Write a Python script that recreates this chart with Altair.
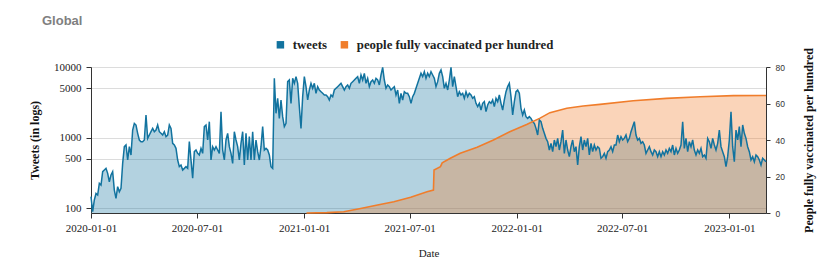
import altair as alt
import pandas as pd

# Daily-ish tweet counts (log scale), evenly spaced from 2020-01-01 to 2023-03-05
tweets = [
    145, 89, 130, 161, 153, 224, 212, 328, 346, 365,
    310, 236, 294, 328, 180, 137, 201, 170, 190, 430,
    741, 783, 480, 741, 565, 1278, 1588, 1504, 1146, 922,
    873, 873, 922, 2085, 973, 1085, 1210, 1349, 1210, 1278,
    1504, 1210, 1146, 1085, 1210, 1028, 1085, 1504, 1349, 827,
    783, 702, 480, 386, 407, 346, 365, 386, 365, 873,
    480, 264, 630, 665, 596, 565, 702, 596, 1425, 1504,
    922, 1677, 480, 741, 665, 741, 665, 596, 2325, 665,
    480, 922, 1146, 741, 596, 430, 1210, 922, 741, 480,
    827, 1210, 407, 1146, 480, 1028, 480, 1210, 480, 922,
    630, 480, 741, 1425, 665, 702, 665, 565, 386, 365,
    6909, 2202, 3594, 1870, 3404, 1975, 1425, 1588, 6194, 6540,
    3052, 6909, 5866, 7295, 5866, 2738, 1349, 3795, 7295, 5262,
    3404, 4719, 5866, 4983, 5866, 4231, 5262, 4719, 4469, 4231,
    4007, 4007, 3795, 3404, 4007, 3795, 4719,
    4983, 5262, 5556, 5866, 5262, 4719, 5262, 5556, 4983, 5866,
    6194, 6540, 6909, 7295, 5866, 7700, 6540, 8134, 5866, 6909,
    5262, 6194, 6540, 5866, 6909, 6540, 5556, 7700, 9900, 6540,
    4983, 5556, 5262, 4719, 4983, 5262, 4007, 4719, 3052, 4231,
    3404, 4469, 4231, 4231, 3795, 3052, 3795, 4231, 4983, 5866,
    6909, 8134, 7295, 8586, 6909, 8134, 7295, 8586, 7700, 6909,
    5262, 6194, 8134, 9070, 7295, 4983, 5866, 4719, 6540, 9900,
    5262, 7295, 5262, 3795, 4469, 4007, 4231, 3594, 4469, 3795,
    4231, 4007, 3594, 3795, 3052, 2738, 3052, 2455, 3052, 3224,
    2325, 2891, 3224, 3052, 3404, 2738, 3594, 3224, 4007, 3052,
    2455, 3404, 4469, 5262, 5866, 3795, 2085, 3224, 4469, 4719,
    4231, 2593, 2085, 2455, 1975, 1870, 1975, 1870, 1677, 1588,
    1349, 1085, 1771, 1677,
    1349, 1146, 973, 873, 665, 827, 630, 922, 741, 973,
    665, 873, 1278, 596, 922, 665, 535, 741, 922, 630,
    741, 407, 741, 1028, 665, 922, 741, 973, 565, 827,
    630, 783, 665, 741, 702, 507, 535, 596, 507, 630,
    665, 741, 630, 783, 783, 1085, 873, 1028, 922, 973,
    1085, 873, 973, 1210, 1425, 1677, 1085, 922, 973, 827,
    873, 783, 596, 665, 741, 630, 565, 665, 630, 535,
    630, 535, 630, 565, 665, 596, 702, 630, 783, 565,
    702, 596, 665, 783, 1677, 702, 973, 630, 873, 741,
    922, 665, 565, 665, 596, 702, 535, 565, 507, 973,
    873, 702, 973, 783, 665, 827, 1278, 741, 630, 535,
    386, 535, 922, 2325, 741, 454, 1278, 922, 1425, 741,
    1504, 1146, 973, 741, 630, 480, 535, 454, 565, 535,
    480, 407, 507, 480, 454,
]

# People fully vaccinated per hundred (global)
vacc_dates = [
    "2021-01-05", "2021-02-09", "2021-03-10", "2021-04-08", "2021-05-07",
    "2021-06-04", "2021-07-03", "2021-07-31", "2021-08-11", "2021-08-12",
    "2021-08-23", "2021-08-26", "2021-09-09", "2021-09-26", "2021-10-25",
    "2021-11-22", "2021-12-20", "2022-01-18", "2022-02-10", "2022-02-27",
    "2022-03-28", "2022-04-25", "2022-05-24", "2022-07-20", "2022-09-15",
    "2022-11-12", "2023-01-08", "2023-03-05",
]
vacc_values = [
    0.0, 0.2, 0.7, 2.5, 4.4,
    6.2, 8.6, 11.7, 12.6, 23.6,
    25.4, 27.5, 30.0, 32.7, 36.0,
    40.0, 44.5, 48.5, 52.0, 55.0,
    57.4, 58.6, 59.5, 61.5, 62.8,
    63.7, 64.3, 64.4,
]

series_names = ["tweets", "people fully vaccinated per hundred"]
series_colors = ["#12739f", "#f07d2b"]
x_ticks = ["2020-01-01", "2020-07-01", "2021-01-01", "2021-07-01",
           "2022-01-01", "2022-07-01", "2023-01-01"]
left_ticks = [100, 500, 1000, 5000, 10000]
right_ticks = [0, 20, 40, 60, 80]

tw_df = pd.DataFrame({
    "date": pd.date_range("2020-01-01", "2023-03-05", periods=len(tweets)),
    "value": tweets,
    "series": series_names[0],
})
vx_df = pd.DataFrame({
    "date": pd.to_datetime(vacc_dates),
    "value": vacc_values,
    "series": series_names[1],
})

SERIF = "Liberation Serif"

def dt(s):
    y, m, d = (int(p) for p in s.split("-"))
    return alt.DateTime(year=y, month=m, date=d)

x_enc = alt.X(
    "date:T",
    title="Date",
    scale=alt.Scale(domain=[dt("2020-01-01"), dt("2023-03-05")], nice=False),
    axis=alt.Axis(values=[dt(s) for s in x_ticks], format="%Y-%m-%d",
                  labelFont=SERIF, labelFontSize=11, labelColor="#222",
                  titleFont=SERIF, titleFontSize=11, titleFontWeight="normal",
                  titleColor="#222", grid=False, tickSize=5, labelPadding=4,
                  titlePadding=14, domainColor="#333", tickColor="#333",
                  labelFlush=False),
)

color_enc = alt.Color(
    "series:N",
    scale=alt.Scale(domain=series_names, range=series_colors),
    legend=alt.Legend(
        title=None, orient="none", legendX=183, legendY=-29,
        direction="horizontal", symbolType="square", symbolSize=56,
        symbolOpacity=1, symbolStrokeWidth=0, labelLimit=400,
        labelFont=SERIF, labelFontSize=12.8, labelFontWeight="bold",
        labelColor="#222", labelOffset=6, columnPadding=11, padding=0,
    ),
)

left_scale = alt.Scale(type="log", domain=[85, 10000], nice=False)
right_scale = alt.Scale(domain=[0, 80], nice=False)

y_left = alt.Y(
    "value:Q",
    title="Tweets (in logs)",
    scale=left_scale,
    axis=alt.Axis(values=left_ticks, format="d", orient="left",
                  labelFont=SERIF, labelFontSize=11, labelColor="#222",
                  titleFont=SERIF, titleFontSize=12, titleFontWeight="bold",
                  titleColor="#111", titlePadding=12, tickSize=5,
                  labelPadding=5, grid=True, gridColor="#dcdcdc",
                  domainColor="#333", tickColor="#333"),
)

y_right = alt.Y(
    "value:Q",
    title="People fully vaccinated per hundred",
    scale=right_scale,
    axis=alt.Axis(values=right_ticks, orient="right",
                  labelFont="Liberation Sans", labelFontSize=8.5,
                  labelColor="#333", titleFont=SERIF, titleFontSize=12,
                  titleFontWeight="bold", titleColor="#111", titleAngle=-90,
                  titlePadding=31, tickSize=4, labelPadding=5, grid=False,
                  domainColor="#333", tickColor="#333"),
)

y_left_plain = alt.Y("value:Q", scale=left_scale, axis=None)
y_right_plain = alt.Y("value:Q", scale=right_scale, axis=None)

tw_area = alt.Chart(tw_df).mark_area(opacity=0.32).encode(
    x=x_enc, y=y_left, y2=alt.datum(85), color=color_enc)
vx_area = alt.Chart(vx_df).mark_area(opacity=0.33).encode(
    x=x_enc, y=y_right, color=color_enc)
tw_line = alt.Chart(tw_df).mark_line(color=series_colors[0], strokeWidth=1.5).encode(
    x=x_enc, y=y_left_plain)
vx_line = alt.Chart(vx_df).mark_line(color=series_colors[1], strokeWidth=1.6).encode(
    x=x_enc, y=y_right_plain)

chart = alt.layer(tw_area, vx_area, tw_line, vx_line).resolve_scale(
    y="independent"
).properties(
    width=675,
    height=146,
    autosize=alt.AutoSizeParams(type="none"),
    padding={"left": 83, "top": 59, "right": 56, "bottom": 50},
    title=alt.Title("Global", anchor="start", frame="group", dx=-49, offset=10,
                    font="Liberation Sans", fontSize=13, fontWeight="bold",
                    color="#808080"),
).configure_view(stroke=None).configure(background="white")

chart.save("out.html", embed_options={"renderer": "svg", "actions": False})
